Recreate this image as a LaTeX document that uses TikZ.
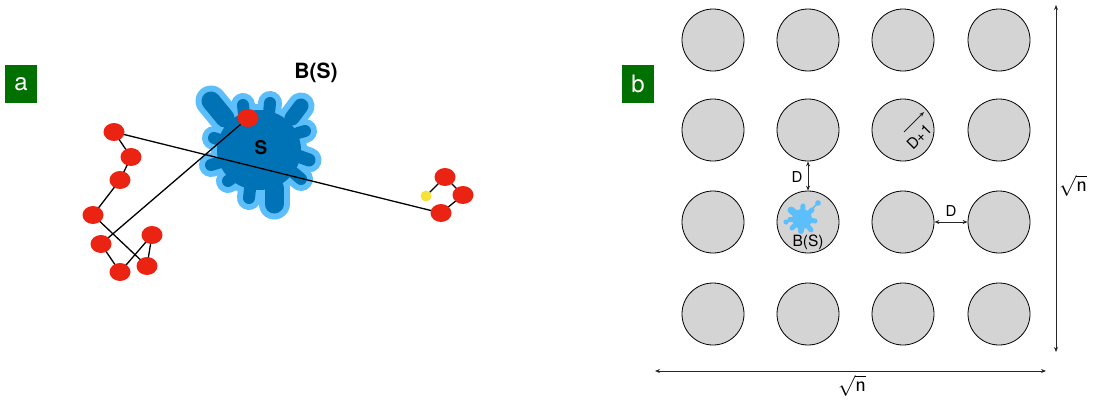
\documentclass[tikz,border=0pt]{standalone}
\usepackage{fontspec}
\setmainfont{TeX Gyre Heros}
\usetikzlibrary{arrows.meta,shapes.geometric}
\definecolor{boxgreen}{RGB}{0,112,0}
\definecolor{nodered}{RGB}{235,35,18}
\definecolor{darkblue}{RGB}{0,114,182}
\definecolor{lightblue}{RGB}{92,190,250}
\definecolor{dotyellow}{RGB}{246,226,56}
\definecolor{cellgray}{RGB}{212,212,212}
\pgfdeclarelayer{back}
\pgfdeclarelayer{mid}
\pgfsetlayers{back,mid,main}
\tikzset{
  panellabel/.style={fill=boxgreen, text=white, minimum width=32pt, minimum height=38pt, inner sep=0pt, font=\fontsize{24}{24}\selectfont},
  rednode/.style={ellipse, fill=nodered, minimum width=21pt, minimum height=18pt, inner sep=0pt},
  yellownode/.style={circle, fill=dotyellow, minimum size=11pt, inner sep=0pt},
  edge/.style={black, line width=1.3pt},
  cell/.style={circle, fill=cellgray, draw=black, line width=0.8pt, minimum size=62pt, inner sep=0pt},
  dimarrow/.style={{Stealth[length=5pt,width=4pt]}-{Stealth[length=5pt,width=4pt]}, line width=0.8pt, black!85},
  onearrow/.style={-{Stealth[length=5pt,width=4pt]}, line width=0.8pt, black!85},
  dimlabel/.style={inner sep=0pt, font=\fontsize{15}{15}\selectfont},
  rootlabel/.style={inner sep=0pt, font=\fontsize{22}{22}\selectfont},
}
\def\lobelist{225/118/211/101/19, 244/114/243/105/12, 269/113/270/103/12, 292/118/301/106/15,
    298/133/305/131/12, 298/156/309/160/13, 294/173/301/179/12, 274/188/274/204/19,
    250/189/249/198/12, 232/178/228/181/12, 221/162/211/165/12, 220/140/214/138/12}
\begin{document}
\begin{tikzpicture}[x=1pt,y=-1pt]
\useasboundingbox (0,0) rectangle (1097,402);
% ---------- panel a ----------
\node[panellabel] (la) at (21,84) {a};
\begin{pgfonlayer}{back}
  % light band (offset of the union)
  \fill[lightblue] (259,150) ellipse [x radius=48pt, y radius=46pt];
  \foreach \sx/\sy/\tx/\ty/\w in \lobelist
    {\draw[lightblue, line width=\w pt+12pt, line cap=round] (\sx,\sy) -- (\tx,\ty);}
  % dark body
  \fill[darkblue] (259,150) ellipse [x radius=42pt, y radius=40pt];
  \foreach \sx/\sy/\tx/\ty/\w in \lobelist
    {\draw[darkblue, line width=\w pt, line cap=round] (\sx,\sy) -- (\tx,\ty);}
\end{pgfonlayer}
\node[font=\bfseries\fontsize{21}{21}\selectfont] (bs) at (316,73) {B(S)};
\node[font=\bfseries\fontsize{19}{19}\selectfont] (s) at (261,148) {S};
\node[rednode] (a1) at (114,132) {};
\node[rednode] (a2) at (131,157) {};
\node[rednode] (a3) at (120,180) {};
\node[rednode] (a4) at (93,215) {};
\node[rednode] (a5) at (101,244) {};
\node[rednode] (a6) at (120,272) {};
\node[rednode] (a7) at (147,266) {};
\node[rednode] (a8) at (152,235) {};
\node[rednode] (top) at (248,118) {};
\node[rednode] (r1) at (445,177) {};
\node[rednode] (r2) at (463,195) {};
\node[rednode] (r3) at (441,213) {};
\node[yellownode] (y) at (426,196) {};
\begin{pgfonlayer}{mid}
  \draw[edge] (a1.center) -- (r3.center);
  \draw[edge] (a1.center) -- (a2.center) -- (a3.center) -- (a4.center) -- (a7.center);
  \draw[edge] (top.center) -- (a5.center) -- (a6.center) -- (a8.center) -- (a7.center);
  \draw[edge] (y.center) -- (r1.center) -- (r2.center) -- (r3.center);
\end{pgfonlayer}
% ---------- panel b ----------
\node[panellabel] (lb) at (638,84) {b};
\foreach \i/\x in {1/713,2/808,3/903,4/999}{
  \foreach \j/\y in {1/40,2/130,3/222,4/314}{
    \node[cell] (c\i\j) at (\x,\y) {};
  }
}
% small blob
\fill[lightblue] (802,219) circle (10pt);
\foreach \tx/\ty/\w in {791/210/7, 803/206/5, 812/210/5, 815/221/5, 811/230/5,
                        801/231/6, 792/228/5, 790/219/5}
  {\draw[lightblue, line width=\w pt, line cap=round] (802,219) -- (\tx,\ty);}
\draw[lightblue, line width=1.6pt, line cap=round] (809,212) -- (817,204);
\fill[lightblue] (818,203) circle (2.8pt);
\draw[lightblue, line width=1.4pt, line cap=round] (790,221) -- (786,222);
\fill[lightblue] (786,222) circle (2.6pt);
\node[font=\fontsize{15.5}{15.5}\selectfont, inner sep=0pt] (bsb) at (808,242) {B(S)};
% D arrows
\draw[dimarrow] (c22.south) -- (c23.north);
\node[dimlabel] (dv) at (797,177) {D};
\draw[dimarrow] (c33.east) -- (c43.west);
\node[dimlabel] (dh) at (951,211) {D};
% D+1
\coordinate (rs) at (904,132);
\coordinate (re) at (924,112);
\draw[onearrow] (rs) -- (re);
\node[dimlabel, rotate=45] (dp1) at (919,137) {D+1};
% sqrt n arrows
\coordinate (vt) at (1056,5);
\coordinate (vb) at (1056,352);
\draw[dimarrow] (vt) -- (vb);
\node[rootlabel, anchor=west] (vn) at (1059,186) {$\sqrt{\textsf{n}}$};
\coordinate (hl) at (655,371);
\coordinate (hr) at (1046,371);
\draw[dimarrow] (hl) -- (hr);
\node[rootlabel] (hn) at (852,386) {$\sqrt{\textsf{n}}$};
\end{tikzpicture}
\end{document}
